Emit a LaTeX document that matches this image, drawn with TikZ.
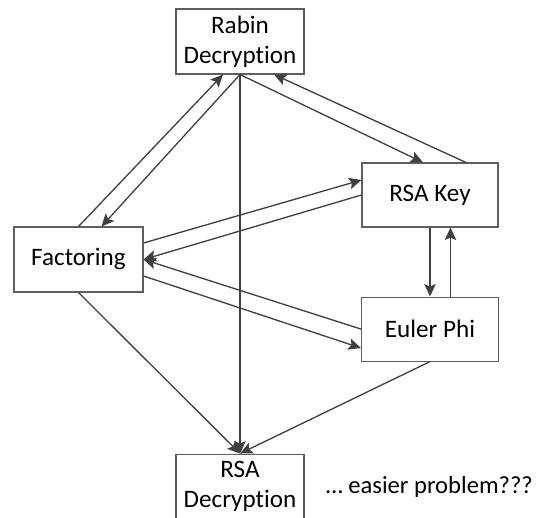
\documentclass[tikz,border=0pt]{standalone}
\usepackage{fontspec}
\setmainfont[Ligatures=NoCommon]{Carlito}
\usepackage{xcolor}
\usepackage{tikz}
\usetikzlibrary{arrows.meta,positioning,calc}
\definecolor{boxline}{RGB}{95,95,95}
\definecolor{arrgrey}{RGB}{64,64,64}
\tikzset{
  probbox/.style = {rectangle, draw=boxline, fill=white, line width=0.6pt,
                    minimum height=13mm, minimum width=25.6mm, inner sep=0pt,
                    align=center, font=\fontsize{14.3pt}{17pt}\selectfont},
  arr/.style     = {-{Stealth[length=2.5mm, width=2.3mm, inset=0.5mm]},
                    line width=0.75pt, draw=arrgrey},
  link/.style    = {line width=0.75pt, draw=arrgrey},
}

\begin{document}
\begin{tikzpicture}

\useasboundingbox (-48mm,8.3mm) rectangle (59.2mm,-95.1mm);

% Rabin decryption at the top
\node[probbox] (rabin) at (0,0) {Rabin\\Decryption};

% RSA key and Euler phi on the right
\node[probbox, minimum width=27.2mm, minimum height=12.8mm] (rsakey)
  at ($(rabin)+(38mm,-30.7mm)$) {RSA Key};
\node[probbox, minimum width=27.4mm, minimum height=12.8mm, below=13.8mm of rsakey] (euler) {Euler Phi};

% Factoring on the left
\node[probbox, minimum width=25.8mm] (factoring) at ($(rabin)+(-32.3mm,-43.6mm)$) {Factoring};

% RSA decryption at the bottom
\node[probbox, below=75.8mm of rabin] (rsadec) {RSA\\Decryption};
\node[right=4.2mm of rsadec, inner sep=0pt, font=\fontsize{14pt}{17pt}\selectfont] (note) {… easier problem???};

% Factoring <-> Rabin
\draw[arr] (factoring.north) -- ([xshift=-3.4mm]rabin.south);
\draw[arr] (rabin.south) -- ([xshift=4.6mm]factoring.north);

% Rabin <-> RSA key
\draw[arr] (rabin.south) -- ([xshift=-1.4mm]rsakey.north);
\draw[arr] ([xshift=7.2mm]rsakey.north) -- ([xshift=6.8mm]rabin.south);

% Factoring <-> RSA key
\draw[arr] ([yshift=3.3mm]factoring.east) -- ([yshift=3mm]rsakey.west);
\draw[arr] (rsakey.west) -- (factoring.east);

% Factoring <-> Euler phi
\draw[arr] (euler.west) -- (factoring.east);
\draw[arr] ([yshift=-3.3mm]factoring.east) -- ([yshift=-3.8mm]euler.west);

% RSA key <-> Euler phi
\draw[arr] (rsakey.south) -- (euler.north);
\draw[arr] ([xshift=4.1mm]euler.north) -- ([xshift=4.1mm]rsakey.south);

% everything reduces to RSA decryption
\draw[arr] (rabin.south) -- (rsadec.north);
\draw[arr] (factoring.south) -- (rsadec.north);
\draw[arr] (euler.south) -- (rsadec.north);

\end{tikzpicture}
\end{document}
